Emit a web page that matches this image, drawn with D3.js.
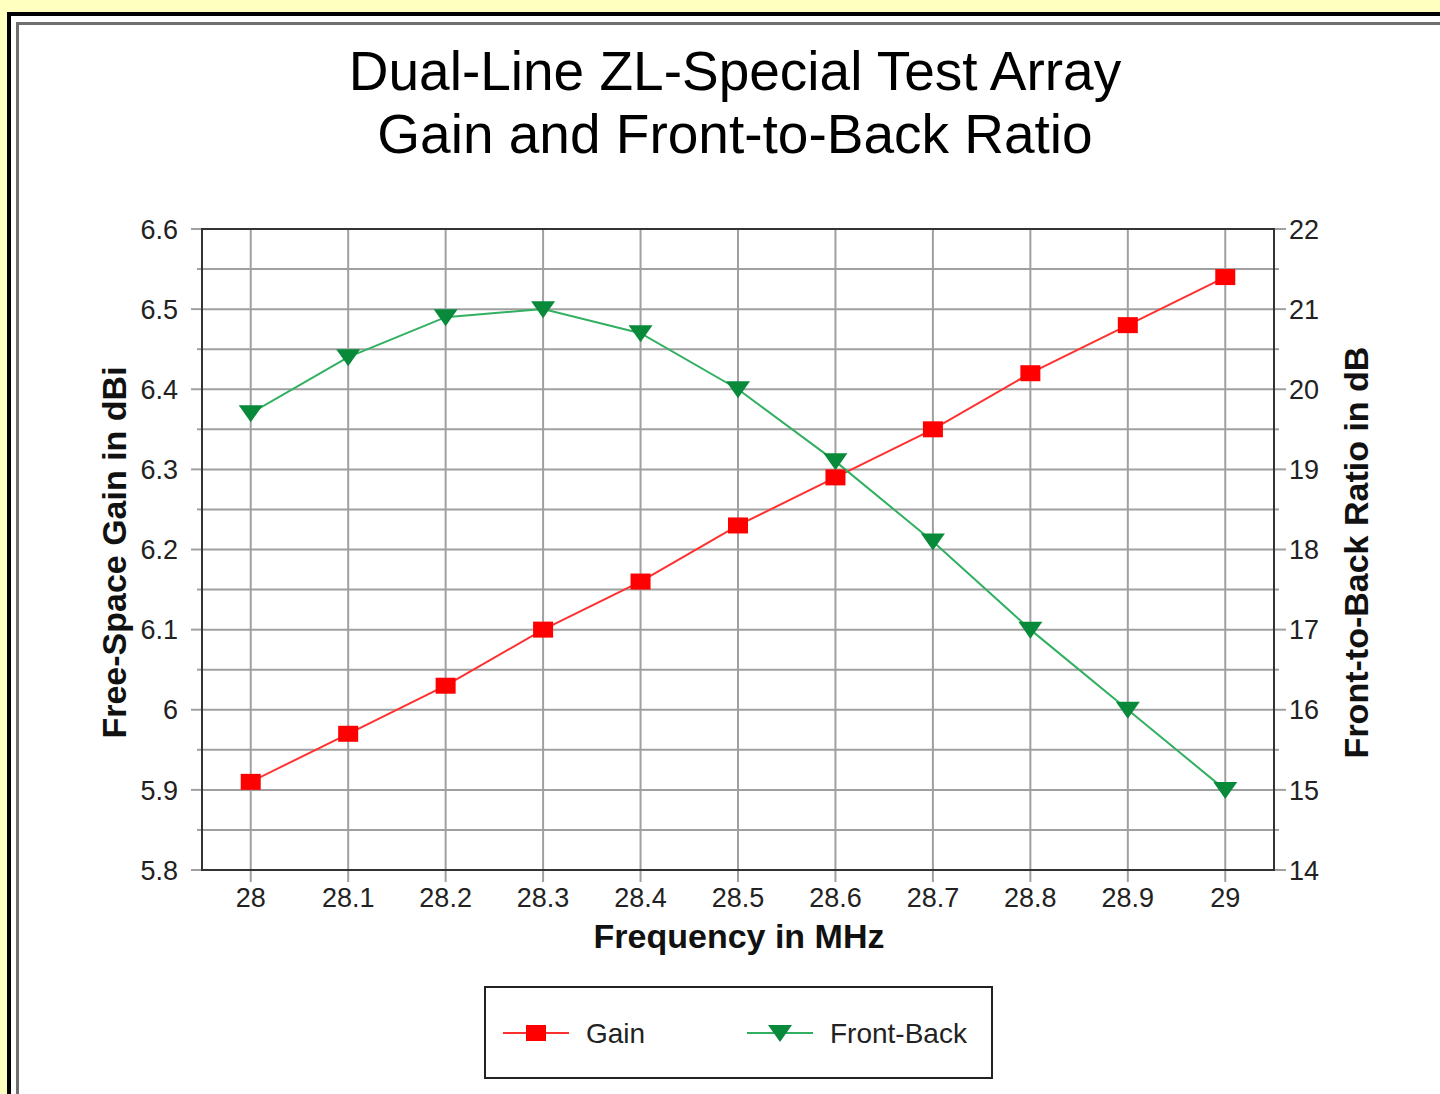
<!DOCTYPE html>
<html>
<head>
<meta charset="utf-8">
<script src="https://d3js.org/d3.v7.min.js"></script>
<style>
  html, body { margin: 0; padding: 0; background: #ffffc0; }
  svg { display: block; }
  text { font-family: "Liberation Sans", Arial, sans-serif; }
</style>
</head>
<body>
<svg width="1440" height="1094"></svg>
<script>
var frequency = [28, 28.1, 28.2, 28.3, 28.4, 28.5, 28.6, 28.7, 28.8, 28.9, 29];
var gain = [5.91, 5.97, 6.03, 6.10, 6.16, 6.23, 6.29, 6.35, 6.42, 6.48, 6.54];
var frontBack = [19.7, 20.4, 20.9, 21.0, 20.7, 20.0, 19.1, 18.1, 17.0, 16.0, 15.0];
var gainTicks = [5.8, 5.9, 6, 6.1, 6.2, 6.3, 6.4, 6.5, 6.6];
var fbTicks = [14, 15, 16, 17, 18, 19, 20, 21, 22];
var titleLines = ["Dual-Line ZL-Special Test Array", "Gain and Front-to-Back Ratio"];

var svg = d3.select("svg"),
    margin = {top: 229, right: 166, bottom: 224, left: 202},
    width = +svg.attr("width") - margin.left - margin.right,
    height = +svg.attr("height") - margin.top - margin.bottom;

// page frame
svg.append("rect")
    .attr("x", 9).attr("y", 14)
    .attr("width", 1460).attr("height", 1100)
    .style("fill", "#fff").style("stroke", "#000").style("stroke-width", 4);
svg.append("rect")
    .attr("x", 17.5).attr("y", 23.5)
    .attr("width", 1440).attr("height", 1100)
    .style("fill", "none").style("stroke", "#707070").style("stroke-width", 3);

var x = d3.scaleLinear().domain([27.95, 29.05]).range([0, width]),
    y = d3.scaleLinear().domain([5.8, 6.6]).range([height, 0]),
    y2 = d3.scaleLinear().domain([14, 22]).range([height, 0]);

var g = svg.append("g")
    .attr("transform", "translate(" + margin.left + "," + margin.top + ")");

// grid
var minor = d3.range(0, 17).map(function(i) { return 5.8 + i * 0.05; });
g.append("g").selectAll("line").data(minor).enter().append("line")
    .attr("x1", 0).attr("x2", width)
    .attr("y1", function(d) { return y(d); }).attr("y2", function(d) { return y(d); })
    .style("stroke", "#a0a0a0").style("stroke-width", 2);
g.append("g").selectAll("line").data(frequency).enter().append("line")
    .attr("x1", function(d) { return x(d); }).attr("x2", function(d) { return x(d); })
    .attr("y1", 0).attr("y2", height + 12)
    .style("stroke", "#a0a0a0").style("stroke-width", 2);

// tick marks outside the frame
g.append("g").selectAll("line").data(minor).enter().append("line")
    .attr("x1", function(d, i) { return i % 2 ? -5 : -11; }).attr("x2", 0)
    .attr("y1", function(d) { return y(d); }).attr("y2", function(d) { return y(d); })
    .style("stroke", "#a0a0a0").style("stroke-width", 2);
g.append("g").selectAll("line").data(minor).enter().append("line")
    .attr("x1", width).attr("x2", function(d, i) { return width + (i % 2 ? 5 : 12); })
    .attr("y1", function(d) { return y(d); }).attr("y2", function(d) { return y(d); })
    .style("stroke", "#a0a0a0").style("stroke-width", 2);

// plot border
g.append("rect")
    .attr("width", width).attr("height", height)
    .style("fill", "none").style("stroke", "#333").style("stroke-width", 2);

// tick labels
g.append("g").selectAll("text").data(gainTicks).enter().append("text")
    .attr("x", -24).attr("y", function(d) { return y(d); })
    .attr("dy", "0.36em").attr("text-anchor", "end")
    .style("font-size", "27px").style("fill", "#222")
    .text(function(d) { return d3.format("")(d); });
g.append("g").selectAll("text").data(fbTicks).enter().append("text")
    .attr("x", width + 15).attr("y", function(d) { return y2(d); })
    .attr("dy", "0.36em").attr("text-anchor", "start")
    .style("font-size", "27px").style("fill", "#222")
    .text(function(d) { return d; });
g.append("g").selectAll("text").data(frequency).enter().append("text")
    .attr("x", function(d) { return x(d); }).attr("y", height + 37)
    .attr("text-anchor", "middle")
    .style("font-size", "27px").style("fill", "#222")
    .text(function(d) { return d; });

// axis titles
g.append("text")
    .attr("x", width / 2 + 1).attr("y", height + 78)
    .attr("text-anchor", "middle")
    .style("font-size", "34px").style("font-weight", "bold").style("fill", "#111")
    .text("Frequency in MHz");
g.append("text")
    .attr("transform", "translate(-76," + (height / 2 + 3) + ") rotate(-90)")
    .attr("text-anchor", "middle")
    .style("font-size", "34px").style("font-weight", "bold").style("fill", "#111")
    .text("Free-Space Gain in dBi");
g.append("text")
    .attr("transform", "translate(" + (width + 94) + "," + (height / 2 + 3) + ") rotate(-90)")
    .attr("text-anchor", "middle")
    .style("font-size", "34px").style("font-weight", "bold").style("fill", "#111")
    .text("Front-to-Back Ratio in dB");

// title
svg.append("g").selectAll("text").data(titleLines).enter().append("text")
    .attr("x", 735).attr("y", function(d, i) { return 90 + i * 63; })
    .attr("text-anchor", "middle")
    .style("font-size", "55px").style("fill", "#000")
    .text(function(d) { return d; });

// series
var gainLine = d3.line()
    .x(function(d, i) { return x(frequency[i]); })
    .y(function(d) { return y(d); });
var fbLine = d3.line()
    .x(function(d, i) { return x(frequency[i]); })
    .y(function(d) { return y2(d); });

g.append("path").datum(gain)
    .style("fill", "none").style("stroke", "#ff3030").style("stroke-width", 2)
    .attr("d", gainLine);
g.append("path").datum(frontBack)
    .style("fill", "none").style("stroke", "#30b060").style("stroke-width", 2)
    .attr("d", fbLine);

var tri = "M-12,-8L12,-8L0,9Z";

g.append("g").selectAll("path").data(frontBack).enter().append("path")
    .attr("transform", function(d, i) { return "translate(" + x(frequency[i]) + "," + y2(d) + ")"; })
    .attr("d", tri)
    .style("fill", "#088a3a");
g.append("g").selectAll("rect").data(gain).enter().append("rect")
    .attr("x", function(d, i) { return x(frequency[i]) - 10; })
    .attr("y", function(d) { return y(d) - 8; })
    .attr("width", 20).attr("height", 16)
    .style("fill", "#ff0000");

// legend
var legend = svg.append("g").attr("transform", "translate(485,987)");
legend.append("rect")
    .attr("width", 507).attr("height", 91)
    .style("fill", "#fff").style("stroke", "#222").style("stroke-width", 2);
var items = [
    {label: "Gain", color: "#ff3030", x: 18},
    {label: "Front-Back", color: "#30b060", x: 262}
];
items.forEach(function(it, k) {
    var lg = legend.append("g").attr("transform", "translate(" + it.x + ",46)");
    lg.append("line").attr("x1", 0).attr("x2", 66)
        .style("stroke", it.color).style("stroke-width", 2);
    if (k === 0) {
        lg.append("rect").attr("x", 23).attr("y", -8).attr("width", 20).attr("height", 16)
            .style("fill", "#ff0000");
    } else {
        lg.append("path").attr("transform", "translate(33,0)").attr("d", tri)
            .style("fill", "#088a3a");
    }
    lg.append("text").attr("x", 83).attr("y", 0).attr("dy", "0.36em")
        .style("font-size", "28px").style("fill", "#222")
        .text(it.label);
});
</script>
</body>
</html>
